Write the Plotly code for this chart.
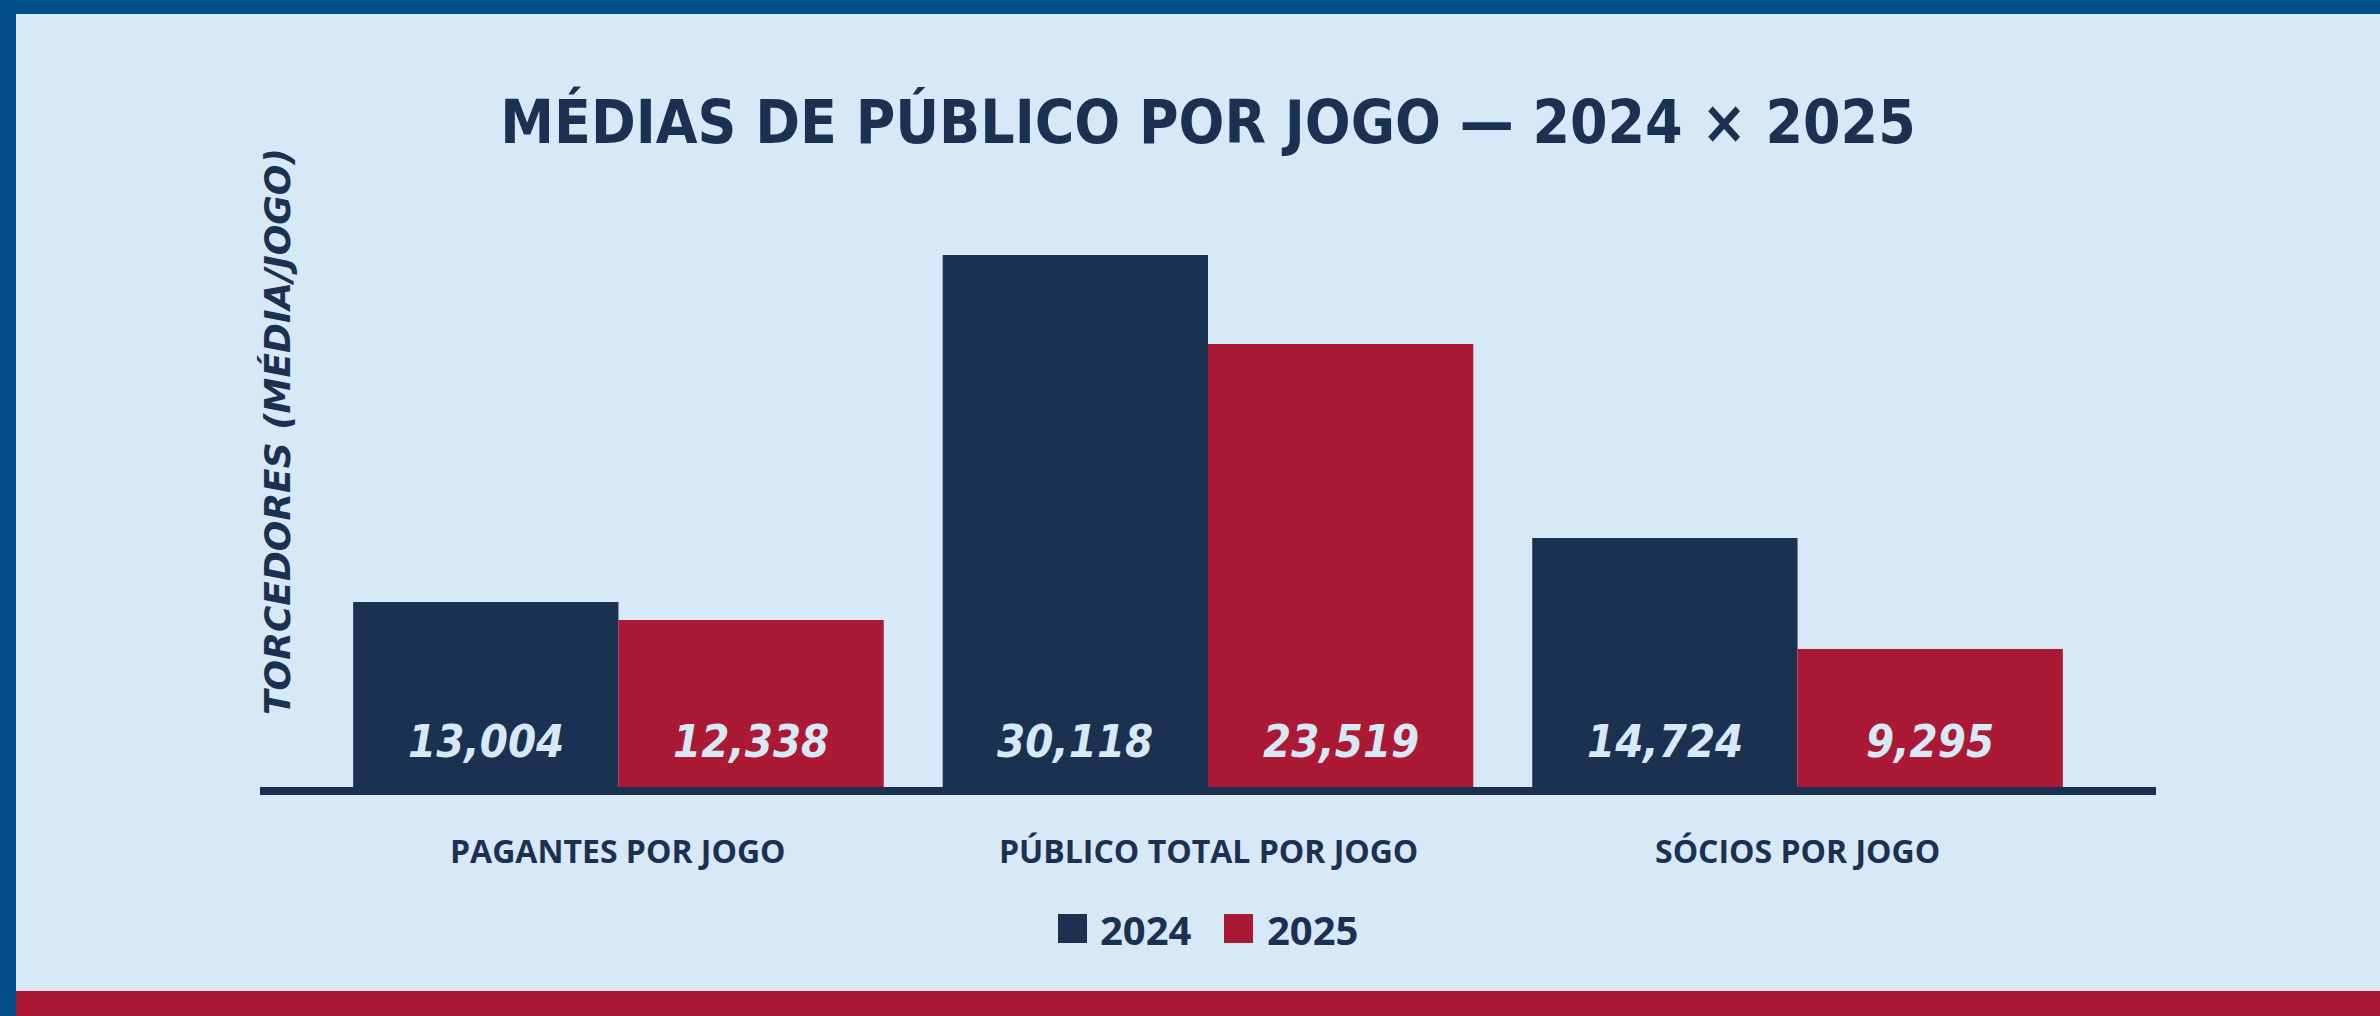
import plotly.graph_objects as go

# ---------------- data ----------------
categorias = ["PAGANTES POR JOGO", "PÚBLICO TOTAL POR JOGO", "SÓCIOS POR JOGO"]
anos = ["2024", "2025"]
# values printed on the bars
rotulos_2024 = [13004, 30118, 14724]
rotulos_2025 = [12338, 23519, 9295]
# bar heights as drawn in the picture (same unit)
altura_2024 = [10470, 30118, 14090]
altura_2025 = [9450, 25070, 7810]

titulo = "MÉDIAS DE PÚBLICO POR JOGO — 2024 × 2025"
titulo_y = "TORCEDORES (MÉDIA/JOGO)"

# ---------------- style ----------------
NAVY = "#1a3152"
RED = "#ac1934"
BG = "#d7e9f7"
BLUE = "#004f8a"
W, H = 2380, 1016
ML, MR, MT, MB = 260, 224, 204, 229
PW, PH = W - ML - MR, H - MT - MB
PAD = 0.108

def px_x(p):
    return (p - ML) / PW

def px_y(p):
    return (H - MB - p) / PH

TITLE_FONT = "DejaVu Sans Condensed, Liberation Sans Narrow, Open Sans, sans-serif"
NUM_FONT = "DejaVu Sans Condensed, Liberation Sans Narrow, Open Sans, sans-serif"
LABEL_FONT = "Open Sans, Noto Sans, sans-serif"
YT_FONT = "DejaVu Sans, Open Sans, sans-serif"

fig = go.Figure()
fig.add_trace(go.Bar(name=anos[0], x=categorias, y=altura_2024, marker_color=NAVY,
                     marker_line_width=0, hoverinfo="skip"))
fig.add_trace(go.Bar(name=anos[1], x=categorias, y=altura_2025, marker_color=RED,
                     marker_line_width=0, hoverinfo="skip"))

ann = []
# value labels inside bars (near the base)
for i, (a, b) in enumerate(zip(rotulos_2024, rotulos_2025)):
    for off, v in ((-0.225, a), (0.225, b)):
        ann.append(dict(x=i + off, xref="x", y=0, yref="y", yshift=46, yanchor="middle",
                        xanchor="center", text=f"<i><b>{v:,}</b></i>", showarrow=False,
                        font=dict(family=NUM_FONT, size=45, color=BG)))
# category labels
for c in categorias:
    ann.append(dict(x=c, xref="x", y=0, yref="paper", yshift=-63, yanchor="middle",
                    xanchor="center", text=f"<b>{c}</b>", showarrow=False,
                    font=dict(family=LABEL_FONT, size=32, color=NAVY)))
# y axis title
ann.append(dict(x=px_x(277), xref="paper", y=px_y(432), yref="paper", textangle=-90,
                xanchor="center", yanchor="middle", text=f"<i><b>{titulo_y}</b></i>",
                showarrow=False, font=dict(family=YT_FONT, size=36, color=NAVY)))
# legend (manual)
leg = [(anos[0], NAVY, 1058, 1098), (anos[1], RED, 1224, 1265)]
shapes = [
    dict(type="rect", xref="paper", yref="paper", x0=px_x(0), x1=px_x(16), y0=px_y(0), y1=px_y(H),
         fillcolor=BLUE, line_width=0, layer="below"),
    dict(type="rect", xref="paper", yref="paper", x0=px_x(0), x1=px_x(W), y0=px_y(0), y1=px_y(14),
         fillcolor=BLUE, line_width=0, layer="below"),
    dict(type="rect", xref="paper", yref="paper", x0=px_x(16), x1=px_x(W), y0=px_y(991), y1=px_y(H),
         fillcolor=RED, line_width=0, layer="below"),
]
for name, col, sx, tx in leg:
    shapes.append(dict(type="rect", xref="paper", yref="paper", x0=px_x(sx), x1=px_x(sx + 29),
                       y0=px_y(914), y1=px_y(943), fillcolor=col, line_width=0))
    ann.append(dict(x=px_x(tx), xref="paper", y=px_y(929.5), yref="paper", xanchor="left",
                    yanchor="middle", text=f"<b>{name}</b>", showarrow=False,
                    font=dict(family=LABEL_FONT, size=40, color=NAVY)))

fig.update_layout(
    width=W, height=H,
    margin=dict(l=ML, r=MR, t=MT, b=MB, pad=0),
    paper_bgcolor=BG, plot_bgcolor=BG,
    barmode="group", bargap=0.1, bargroupgap=0,
    showlegend=False,
    title=dict(text=f"<b>{titulo}</b>", x=0.5, xref="paper", xanchor="center",
               y=1 - 122 / H, yref="container", yanchor="middle",
               font=dict(family=TITLE_FONT, size=60, color=NAVY)),
    xaxis=dict(range=[-0.5 - PAD, 2.5 + PAD], showline=True, linecolor=NAVY, linewidth=8,
               showticklabels=False, showgrid=False, zeroline=False, ticks="", fixedrange=True),
    yaxis=dict(range=[0, 33000], visible=False, showgrid=False, zeroline=False, fixedrange=True),
    annotations=ann,
    shapes=shapes,
)

fig.write_html("out.html", config={"displayModeBar": False},
               post_script="document.body.style.margin='0';document.body.style.overflow='hidden';")
